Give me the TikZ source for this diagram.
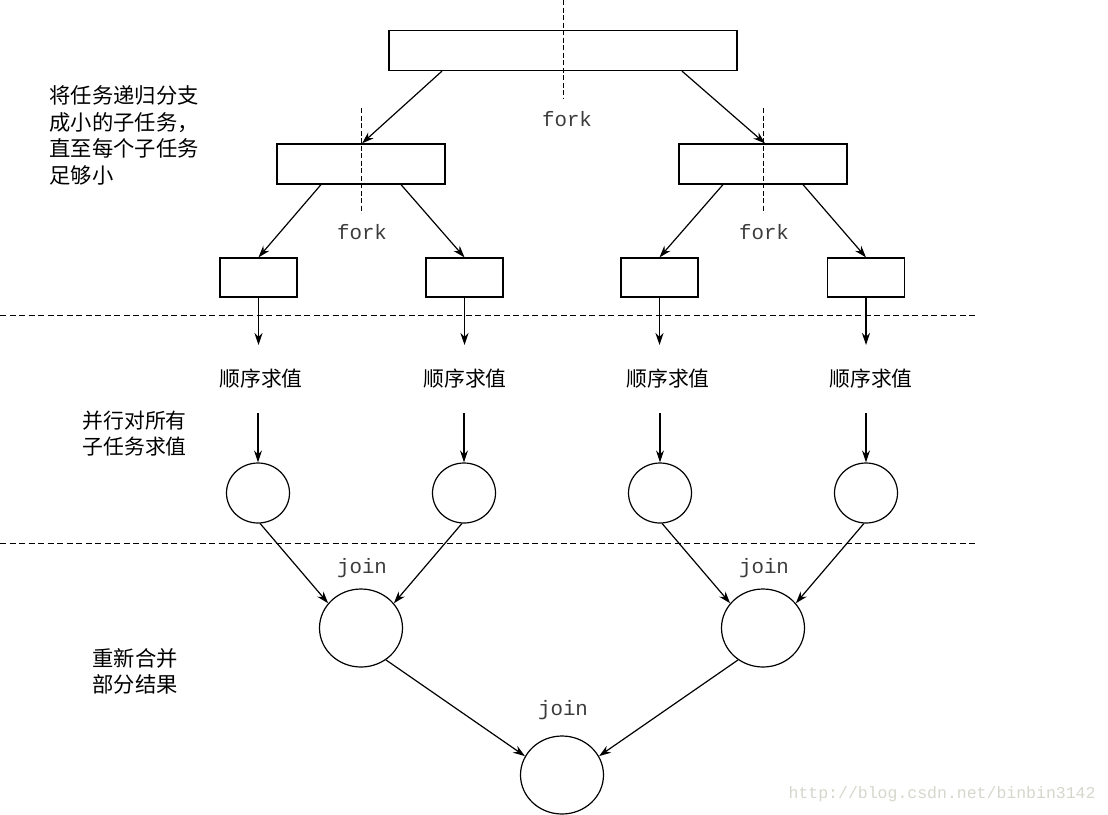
\documentclass[tikz,border=0pt]{standalone}
\usepackage{fontspec}
\newfontfamily\cjk{Noto Sans CJK SC}
\setmonofont{Liberation Mono}
\usetikzlibrary{shapes.geometric,arrows.meta}
\definecolor{wm}{RGB}{214,214,204}
\definecolor{lbl}{RGB}{60,60,60}
\begin{document}
\begin{tikzpicture}[x=1pt,y=-1pt, line width=1.2pt,
  box/.style={draw, rectangle, inner sep=0pt, minimum height=40pt},
  bigbox/.style={box, minimum width=348pt},
  midbox/.style={box, minimum width=168pt},
  smallbox/.style={box, minimum width=77pt, minimum height=39pt},
  task/.style={draw, ellipse, inner sep=0pt, minimum width=63pt, minimum height=60pt},
  joinc/.style={draw, ellipse, inner sep=0pt, minimum width=83pt, minimum height=78pt},
  arr/.style={-{Stealth[length=12pt,width=8pt]}},
  sep/.style={dash pattern=on 6pt off 3.5pt, line width=0.9pt},
  vsep/.style={dash pattern=on 5pt off 2.5pt, line width=0.9pt},
  cn/.style={font=\cjk\fontsize{20.8}{24}\selectfont, inner sep=0pt},
  cnw/.style={font=\cjk\fontsize{21.3}{24}\selectfont, inner sep=0pt},
  mono/.style={font=\ttfamily\fontsize{20.8}{24}\selectfont, text=lbl, inner sep=0pt, anchor=base},
]
\useasboundingbox (0,0) rectangle (1108,814);

% fork / join boxes and circles
\node[bigbox] (top) at (563,50.5) {};
\node[midbox] (ml) at (361,164) {};
\node[midbox] (mr) at (763,164) {};
\node[smallbox] (s1) at (258.5,277.5) {};
\node[smallbox] (s2) at (464.5,277.5) {};
\node[smallbox] (s3) at (659.5,277.5) {};
\node[smallbox] (s4) at (866,277.5) {};

% vertical dashed fork lines
\coordinate (t0) at (563,0);
\coordinate (t1) at (563,98);
\coordinate (l0) at (361,108);
\coordinate (l1) at (361,213);
\coordinate (r0) at (763,108);
\coordinate (r1) at (763,213);
\draw[vsep] (t0) -- (t1);
\draw[vsep] (l0) -- (l1);
\draw[vsep] (r0) -- (r1);

% horizontal separators
\coordinate (h1a) at (0,315);
\coordinate (h1b) at (975,315);
\coordinate (h2a) at (0,543);
\coordinate (h2b) at (975,543);
\draw[sep] (h1a) -- (h1b);
\draw[sep] (h2a) -- (h2b);

% fork arrows
\draw[arr] ([xshift=-121pt]top.south) -- ([xshift=1pt]ml.north);
\draw[arr] ([xshift=119pt]top.south) -- ([xshift=2pt]mr.north);
\draw[arr] ([xshift=-40pt]ml.south) -- (s1.north);
\draw[arr] ([xshift=40pt]ml.south) -- (s2.north);
\draw[arr] ([xshift=-40pt]mr.south) -- (s3.north);
\draw[arr] ([xshift=40pt]mr.south) -- (s4.north);

% fork labels
\node[mono] (f0) at (567,126) {fork};
\node[mono] (f1) at (362,239) {fork};
\node[mono] (f2) at (764,239) {fork};

% sequential evaluation
\node[cn, anchor=base] (q1) at (261,386) {顺序求值};
\node[cn, anchor=base] (q2) at (465,386) {顺序求值};
\node[cn, anchor=base] (q3) at (668,386) {顺序求值};
\node[cn, anchor=base] (q4) at (871,386) {顺序求值};
\coordinate (a1) at (258.5,345);
\coordinate (a2) at (464.5,345);
\coordinate (a3) at (659.5,345);
\coordinate (a4) at (866,345);
\draw[arr] (s1.south) -- (a1);
\draw[arr] (s2.south) -- (a2);
\draw[arr] (s3.south) -- (a3);
\draw[arr] (s4.south) -- (a4);

\node[task] (c1) at (258,493) {};
\node[task] (c2) at (464,493) {};
\node[task] (c3) at (660,493) {};
\node[task] (c4) at (866,493) {};
\coordinate (b1) at (258,413);
\coordinate (b2) at (464,413);
\coordinate (b3) at (660,413);
\coordinate (b4) at (866,413);
\draw[arr] (b1) -- (c1.north);
\draw[arr] (b2) -- (c2.north);
\draw[arr] (b3) -- (c3.north);
\draw[arr] (b4) -- (c4.north);

% joins
\node[joinc] (j1) at (361,628) {};
\node[joinc] (j2) at (763,628) {};
\node[joinc] (j3) at (562,775) {};
\draw[arr] (c1.-86) -- (j1.143);
\draw[arr] (c2.-94) -- (j1.37);
\draw[arr] (c3.-86) -- (j2.143);
\draw[arr] (c4.-94) -- (j2.37);
\draw[arr] (j1.-52) -- (j3.153);
\draw[arr] (j2.-128) -- (j3.27);

\node[mono] (jl1) at (362,573) {join};
\node[mono] (jl2) at (764,573) {join};
\node[mono] (jl3) at (563,715) {join};

% side notes
\node[cnw, anchor=base west] (n1) at (49,103.5) {将任务递归分支};
\node[cnw, anchor=base west] (n2) at (49,130) {成小的子任务，};
\node[cnw, anchor=base west] (n3) at (49,156.5) {直至每个子任务};
\node[cnw, anchor=base west] (n4) at (49,183) {足够小};
\node[cn, anchor=base west] (p1) at (82,428) {并行对所有};
\node[cn, anchor=base west] (p2) at (82,454.5) {子任务求值};
\node[cnw, anchor=base west] (m1) at (92,666) {重新合并};
\node[cnw, anchor=base west] (m2) at (92,692.5) {部分结果};

% watermark
\node[font=\ttfamily\fontsize{16.5}{18}\selectfont, text=wm, inner sep=0pt, anchor=base west] (wmk) at (788,798) {http://blog.csdn.net/binbin3142};
\end{tikzpicture}
\end{document}
